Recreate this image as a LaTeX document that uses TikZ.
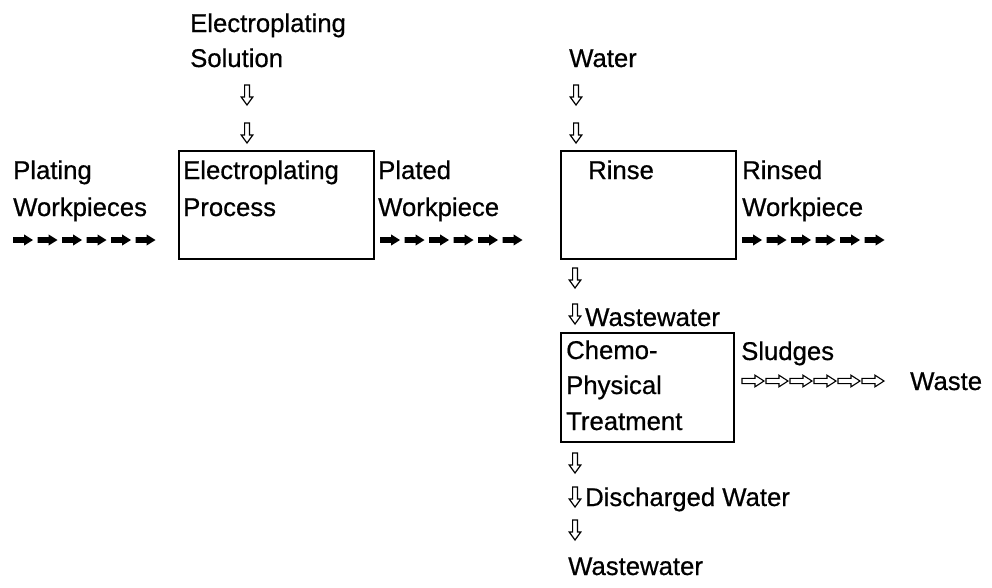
\documentclass[tikz,border=0pt]{standalone}
\usepackage{fontspec}
\setmainfont{Liberation Sans}[FakeBold=0.6]
\begin{document}
\begin{tikzpicture}[x=1pt,y=-1pt,
  lbl/.style={anchor=base west, inner sep=0pt, font=\fontsize{25.7}{37}\selectfont},
  procbox/.style={draw, line width=1.6pt, anchor=north west, inner sep=0pt},
  farrow/.pic={\fill (0,-2.8) -- (11,-2.8) -- (11,-5.6) -- (20,0) -- (11,5.6) -- (11,2.8) -- (0,2.8) -- cycle;},
  harrow/.pic={\draw[line width=1.1pt, fill=white] (0,-2.6) -- (13,-2.6) -- (13,-5.8) -- (22,0) -- (13,5.8) -- (13,2.6) -- (0,2.6) -- cycle;},
  darrow/.pic={\draw[line width=1.2pt, fill=white, line join=miter] (-2.4,0) -- (-2.4,12) -- (-5.8,12) -- (0,20) -- (5.8,12) -- (2.4,12) -- (2.4,0) -- cycle;}
]
\useasboundingbox (0,0) rectangle (992,587);

% boxes
\node[procbox, minimum width=195pt, minimum height=108pt] (ep) at (178,150) {};
\node[procbox, minimum width=175pt, minimum height=108pt] (rinse) at (560,150) {};
\node[procbox, minimum width=173pt, minimum height=109pt] (chem) at (560,332) {};

% top inputs
\node[lbl] (t1) at (190,32) {Electroplating};
\node[lbl] (t2) at (190,67) {Solution};
\pic at (247,85) {darrow};
\pic at (247,123) {darrow};

\node[lbl] (w1) at (569,67) {Water};
\pic at (576,85) {darrow};
\pic at (576,123) {darrow};

% row 1
\node[lbl] (pw1) at (13,179) {Plating};
\node[lbl] (pw2) at (13,216) {Workpieces};
\foreach \i in {0,...,5} \pic at ({13+24.5*\i},240) {farrow};

\node[lbl] (ep1) at (183,179) {Electroplating};
\node[lbl] (ep2) at (183,216) {Process};

\node[lbl] (pl1) at (378,179) {Plated};
\node[lbl] (pl2) at (378,216) {Workpiece};
\foreach \i in {0,...,5} \pic at ({380+24.5*\i},240) {farrow};

\node[lbl] (rn) at (588,179) {Rinse};

\node[lbl] (rw1) at (742,179) {Rinsed};
\node[lbl] (rw2) at (742,216) {Workpiece};
\foreach \i in {0,...,5} \pic at ({742+24.5*\i},240) {farrow};

% below rinse
\pic at (575,268) {darrow};
\pic at (575,304) {darrow};
\node[lbl] (ww1) at (585,326) {Wastewater};

\node[lbl] (c1) at (566,359) {Chemo-};
\node[lbl] (c2) at (566,394) {Physical};
\node[lbl] (c3) at (566,430) {Treatment};

\node[lbl] (sl) at (741,360) {Sludges};
\foreach \i in {0,...,5} \pic at ({742+24*\i},381) {harrow};
\node[lbl] (wst) at (910,390) {Waste};

\pic at (575,453) {darrow};
\pic at (575,487) {darrow};
\node[lbl] (dw) at (585,506) {Discharged Water};
\pic at (575,520) {darrow};
\node[lbl] (ww2) at (568,575) {Wastewater};
\end{tikzpicture}
\end{document}
